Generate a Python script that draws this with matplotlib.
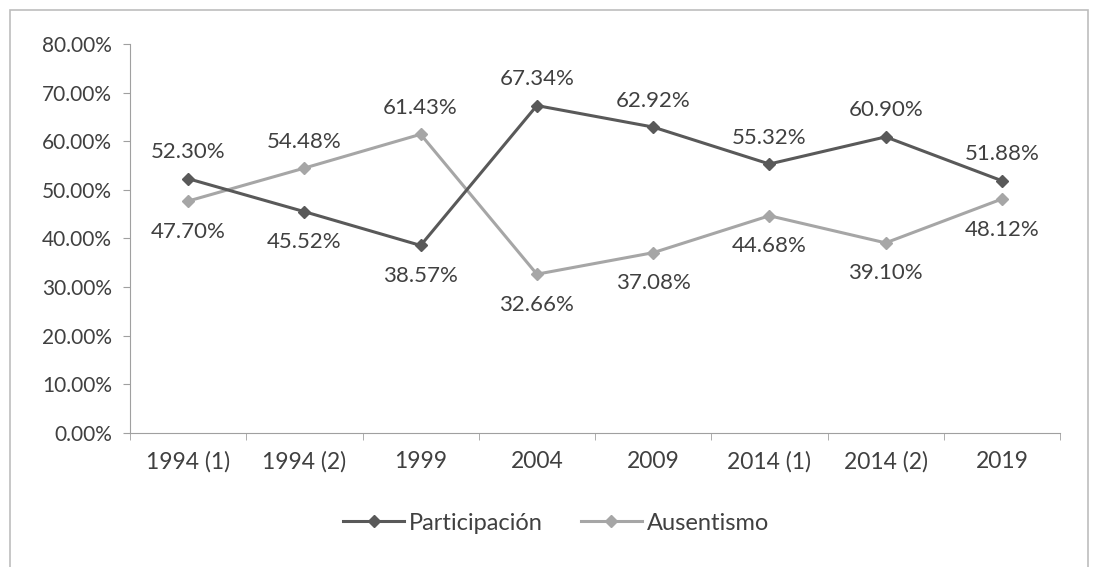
import numpy as np
import matplotlib.pyplot as plt
from matplotlib.patches import Rectangle

categorias = ["1994 (1)", "1994 (2)", "1999", "2004", "2009", "2014 (1)", "2014 (2)", "2019"]
participacion = [52.30, 45.52, 38.57, 67.34, 62.92, 55.32, 60.90, 51.88]
ausentismo = [47.70, 54.48, 61.43, 32.66, 37.08, 44.68, 39.10, 48.12]

plt.rcParams['font.family'] = ['Lato', 'DejaVu Sans']
dark = '#595959'
light = '#a6a6a6'
txt = '#404040'

fig = plt.figure(figsize=(10.98, 5.67), dpi=100)
fig.patches.append(Rectangle((10/1098, -0.1), 1078/1098, 1.1 - 10/567, transform=fig.transFigure,
                             fill=False, edgecolor='#bdbdbd', lw=1.2))
ax = fig.add_axes([130/1098, 1 - 433/567, 930/1098, (433 - 44)/567])

x = np.arange(len(categorias))
ax.plot(x, participacion, color=dark, lw=2.2, marker='D', ms=6, label='Participación', zorder=3)
ax.plot(x, ausentismo, color=light, lw=2.2, marker='D', ms=6, label='Ausentismo', zorder=2)

for i in range(len(x)):
    for v, o in ((participacion[i], ausentismo[i]), (ausentismo[i], participacion[i])):
        off = 19 if v >= o else -22
        ax.annotate(f"{v:.2f}%", (x[i], v), xytext=(0, off), textcoords='offset points',
                    ha='center', va='center', fontsize=16, color=txt)

ax.set_xlim(-0.5, len(x) - 0.5)
ax.set_ylim(0, 80)
ax.set_yticks(np.arange(0, 81, 10))
ax.set_yticklabels([f"{t:.2f}%" for t in np.arange(0, 81, 10)], fontsize=15, color=txt)
ax.set_xticks(x)
ax.set_xticklabels(categorias, fontsize=16.5, color=txt)
ax.set_xticks(np.arange(-0.5, len(x)), minor=True)
ax.tick_params(axis='x', which='major', length=0, pad=13)
ax.tick_params(axis='x', which='minor', length=5, color='#a0a0a0')
ax.tick_params(axis='y', length=5, color='#a0a0a0', pad=8)
for s in ['top', 'right']:
    ax.spines[s].set_visible(False)
ax.spines['left'].set_color('#a0a0a0')
ax.spines['bottom'].set_color('#a0a0a0')

fig.legend(loc='center', bbox_to_anchor=(556/1098, 1 - 523/567), ncol=2, frameon=False,
           fontsize=17, labelcolor=txt, handlelength=2.6, columnspacing=1.6, handletextpad=0.2)

fig.savefig('out.png', dpi=100)
